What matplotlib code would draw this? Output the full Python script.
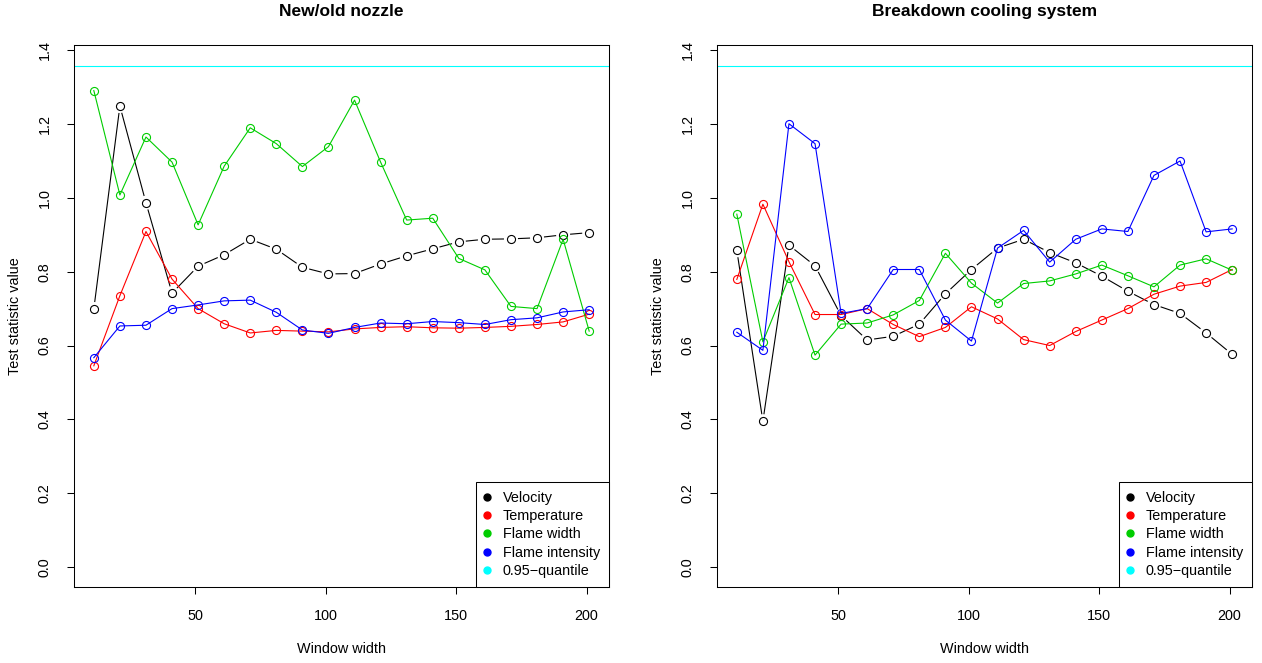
import matplotlib
matplotlib.use("Agg")
import matplotlib.pyplot as plt
from matplotlib.lines import Line2D
import numpy as np

plt.rcParams['font.family'] = ['Liberation Sans', 'DejaVu Sans']
plt.rcParams['font.size'] = 10.4

# window widths on the x axis
window = list(range(11, 202, 10))
quantile_95 = 1.358

# panel 1: new/old nozzle
nozzle_velocity = [0.699, 1.249, 0.987, 0.742, 0.815, 0.846, 0.888, 0.861, 0.812, 0.794,
                   0.795, 0.821, 0.843, 0.862, 0.881, 0.888, 0.889, 0.892, 0.900, 0.906]
nozzle_temperature = [0.545, 0.735, 0.909, 0.780, 0.700, 0.659, 0.634, 0.641, 0.639, 0.637,
                      0.645, 0.649, 0.651, 0.648, 0.647, 0.649, 0.652, 0.657, 0.664, 0.685]
nozzle_width = [1.291, 1.008, 1.165, 1.097, 0.927, 1.086, 1.190, 1.147, 1.085, 1.139,
                1.265, 1.097, 0.940, 0.945, 0.836, 0.805, 0.706, 0.700, 0.888, 0.639]
nozzle_intensity = [0.567, 0.653, 0.655, 0.700, 0.710, 0.721, 0.723, 0.690, 0.642, 0.633,
                    0.649, 0.661, 0.659, 0.665, 0.662, 0.657, 0.670, 0.675, 0.691, 0.697]

# panel 2: breakdown cooling system
cooling_velocity = [0.858, 0.395, 0.872, 0.816, 0.681, 0.615, 0.625, 0.658, 0.740, 0.806,
                    0.864, 0.888, 0.852, 0.824, 0.788, 0.747, 0.711, 0.687, 0.634, 0.576]
cooling_temperature = [0.779, 0.983, 0.827, 0.684, 0.684, 0.700, 0.657, 0.624, 0.649, 0.705,
                       0.672, 0.616, 0.600, 0.638, 0.669, 0.700, 0.739, 0.761, 0.771, 0.806]
cooling_width = [0.956, 0.610, 0.784, 0.574, 0.658, 0.661, 0.683, 0.722, 0.850, 0.769,
                 0.715, 0.768, 0.775, 0.794, 0.818, 0.789, 0.759, 0.818, 0.835, 0.804]
cooling_intensity = [0.636, 0.587, 1.201, 1.147, 0.687, 0.700, 0.806, 0.806, 0.669, 0.612,
                     0.864, 0.912, 0.826, 0.888, 0.916, 0.909, 1.061, 1.100, 0.908, 0.916]

labels = ["Velocity", "Temperature", "Flame width", "Flame intensity", "0.95\u2212quantile"]
colors = ["black", "#FF0000", "#00CD00", "#0000FF", "#00FFFF"]

W, H = 1262, 663
fig = plt.figure(figsize=(W / 100, H / 100), dpi=100)


def draw_gapped(ax, x, y, color, gap=7.0):
    # R type="b": segments stop short of the points
    pts = ax.transData.transform(np.column_stack([x, y]))
    for p0, p1 in zip(pts[:-1], pts[1:]):
        d = p1 - p0
        n = np.hypot(*d)
        if n <= 2 * gap:
            continue
        u = d / n
        a = ax.transData.inverted().transform([p0 + u * gap, p1 - u * gap])
        ax.plot(a[:, 0], a[:, 1], color=color, lw=0.8, solid_capstyle='butt')


def draw_panel(left_px, title, velocity, temperature, width, intensity):
    ax = fig.add_axes([left_px / W, (H - 587) / H, 535 / W, 542 / H])
    ax.set_xlim(3.4, 208.6)
    ax.set_ylim(-0.0544, 1.4144)

    draw_gapped(ax, window, velocity, colors[0])
    ax.plot(window, velocity, 'o', mfc='none', mec=colors[0], ms=5.8, mew=0.8)
    for vals, c in zip([temperature, width, intensity], colors[1:4]):
        ax.plot(window, vals, '-o', color=c, mfc='none', mec=c, ms=5.8, mew=0.8, lw=0.8)
    ax.axhline(quantile_95, color=colors[4], lw=0.8)

    ax.set_xticks([50, 100, 150, 200])
    ax.set_yticks([0.0, 0.2, 0.4, 0.6, 0.8, 1.0, 1.2, 1.4])
    ax.set_yticklabels(["0.0", "0.2", "0.4", "0.6", "0.8", "1.0", "1.2", "1.4"],
                       rotation=90, va='center')
    ax.tick_params(axis='x', direction='out', length=5, width=0.75, pad=10.5)
    ax.tick_params(axis='y', direction='out', length=5, width=0.75, pad=11)
    for s in ax.spines.values():
        s.set_linewidth(0.75)

    ax.set_title(title, fontweight='bold', fontsize=12.5, pad=21)
    ax.set_xlabel("Window width", labelpad=14)
    ax.set_ylabel("Test statistic value", labelpad=11)

    handles = [Line2D([], [], ls='none', marker='o', color=c, ms=5) for c in colors]
    leg = ax.legend(handles, labels, loc='lower right', borderaxespad=0, fancybox=False,
                    edgecolor='black', framealpha=1, handlelength=0.3, handletextpad=0.95,
                    labelspacing=0.3, borderpad=0.62)
    leg.get_frame().set_linewidth(0.75)
    return ax


draw_panel(74, "New/old nozzle", nozzle_velocity, nozzle_temperature,
           nozzle_width, nozzle_intensity)
draw_panel(717, "Breakdown cooling system", cooling_velocity, cooling_temperature,
           cooling_width, cooling_intensity)

fig.savefig("out.png", dpi=100)
